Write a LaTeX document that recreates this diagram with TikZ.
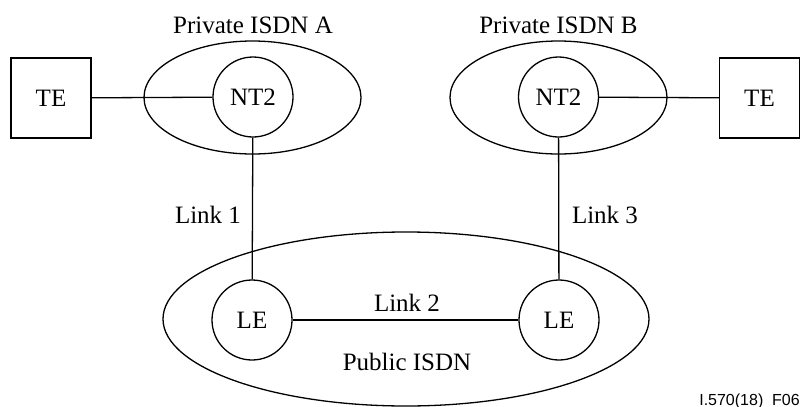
\documentclass[tikz,border=0pt]{standalone}
\usepackage{fontspec}
\setmainfont{Liberation Serif}
\newfontfamily\figsans{Liberation Sans}
\begin{document}
\begin{tikzpicture}[x=1pt,y=-1pt,
  base/.style={line width=1.3pt},
  boxnode/.style={base,draw,minimum width=80pt,minimum height=80pt,inner sep=0pt},
  circnode/.style={base,draw,circle,minimum size=80pt,inner sep=0pt},
  lbl/.style={font=\fontsize{25}{28}\selectfont,inner sep=0pt},
  every node/.style={font=\fontsize{25}{28}\selectfont}]
\useasboundingbox (0,0) rectangle (804,407);
% ellipses
\draw[base] (252.5,97.5) ellipse [x radius=108.5, y radius=56.5];
\draw[base] (558.5,97.5) ellipse [x radius=108.5, y radius=56.5];
\draw[base] (406,319) ellipse [x radius=243, y radius=87];
% nodes
\node[boxnode] (teA) at (51,98) {TE};
\node[boxnode] (teB) at (759.5,98) {TE};
\node[circnode] (ntA) at (253,97) {NT2};
\node[circnode] (ntB) at (558.5,97) {NT2};
\node[circnode] (leA) at (252,320) {LE};
\node[circnode] (leB) at (559,320) {LE};
% connectors
\draw[base] (teA) -- (ntA);
\draw[base] (ntB) -- (teB);
\draw[base] (ntA) -- (leA);
\draw[base] (ntB) -- (leB);
\draw[base] (leA) -- (leB);
% labels
\node[lbl] (pa) at (253,25) {Private ISDN A};
\node[lbl] (pb) at (558.5,25) {Private ISDN B};
\node[lbl] (l1) at (208,215) {Link 1};
\node[lbl] (l3) at (605,215) {Link 3};
\node[lbl] (l2) at (407,303) {Link 2};
\node[lbl] (pub) at (407,362) {Public ISDN};
\node[inner sep=0pt,anchor=base east,font=\figsans\fontsize{16}{18}\selectfont] (fig) at (800,405) {I.570(18)\ \ F06};
\end{tikzpicture}
\end{document}
